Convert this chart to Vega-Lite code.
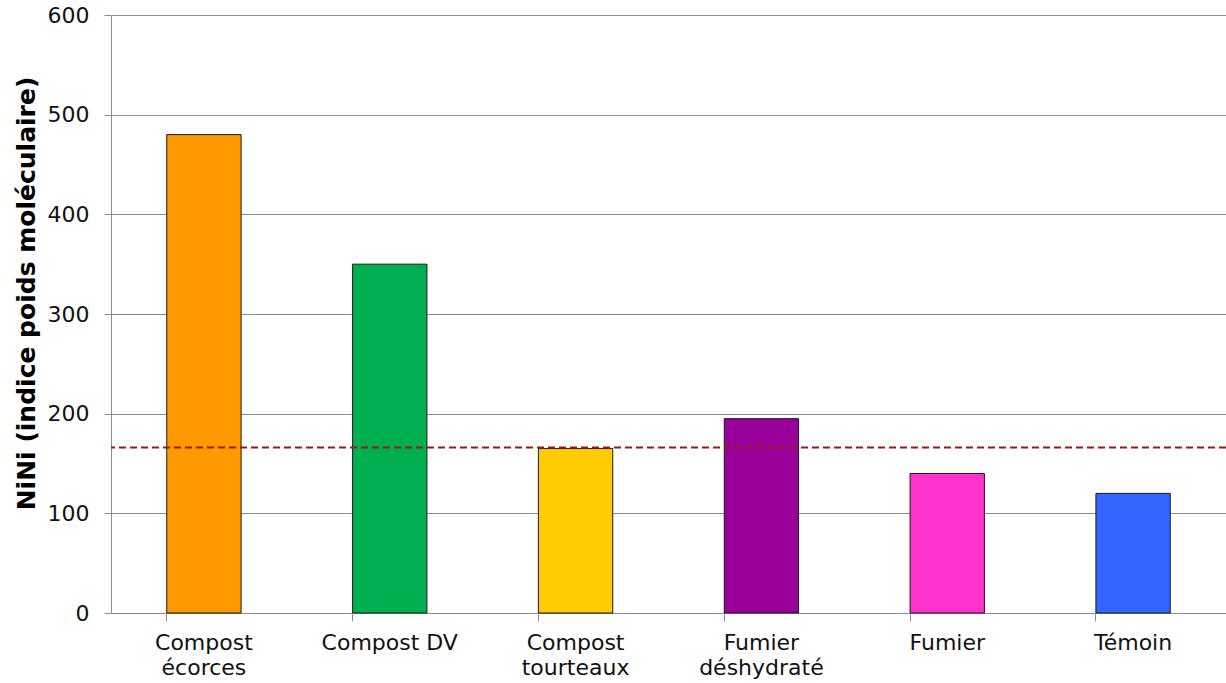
{
  "$schema": "https://vega.github.io/schema/vega-lite/v6.json",
  "autosize": "none",
  "width": 1115,
  "height": 598,
  "padding": {"left": 111, "top": 15, "right": 0, "bottom": 70},
  "background": "white",
  "config": {
    "view": {"stroke": null},
    "font": "DejaVu Sans",
    "axis": {
      "labelFont": "DejaVu Sans",
      "labelFontSize": 22,
      "labelColor": "#111111",
      "domainColor": "#8c8c8c",
      "tickColor": "#8c8c8c",
      "gridColor": "#8c8c8c",
      "gridWidth": 1
    }
  },
  "data": {
    "values": [
      {"produit": "Compost écorces", "nini": 480},
      {"produit": "Compost DV", "nini": 350},
      {"produit": "Compost tourteaux", "nini": 165},
      {"produit": "Fumier déshydraté", "nini": 195},
      {"produit": "Fumier", "nini": 140},
      {"produit": "Témoin", "nini": 120}
    ]
  },
  "layer": [
    {
      "mark": {"type": "bar", "stroke": "#1a1a1a", "strokeWidth": 1},
      "encoding": {
        "x": {
          "field": "produit",
          "type": "nominal",
          "sort": null,
          "scale": {"paddingInner": 0.6, "paddingOuter": 0.3},
          "axis": {
            "title": null,
            "labelAngle": 0,
            "bandPosition": 0,
            "tickSize": 8,
            "labelPadding": 11,
            "labelLineHeight": 25,
            "labelBaseline": "top",
            "labelExpr": "datum.label == 'Compost DV' ? datum.label : split(datum.label, ' ')"
          }
        },
        "y": {
          "field": "nini",
          "type": "quantitative",
          "scale": {"domain": [0, 600], "nice": false},
          "axis": {
            "title": "NiNi (indice poids moléculaire)",
            "titleFontSize": 25,
            "titleFontWeight": "bold",
            "titleColor": "#000000",
            "titlePadding": 8,
            "titleY": 278,
            "values": [0, 100, 200, 300, 400, 500, 600],
            "tickSize": 7,
            "labelPadding": 15,
            "grid": true
          }
        },
        "fill": {
          "field": "produit",
          "type": "nominal",
          "sort": null,
          "scale": {
            "domain": ["Compost écorces", "Compost DV", "Compost tourteaux", "Fumier déshydraté", "Fumier", "Témoin"],
            "range": ["#FF9900", "#00B050", "#FFCC00", "#990099", "#FF33CC", "#3366FF"]
          },
          "legend": null
        }
      }
    },
    {
      "data": {"values": [{"seuil": 166}]},
      "mark": {"type": "rule", "color": "#A31515", "strokeWidth": 2, "strokeDash": [7, 4]},
      "encoding": {
        "y": {"field": "seuil", "type": "quantitative"}
      }
    }
  ]
}
